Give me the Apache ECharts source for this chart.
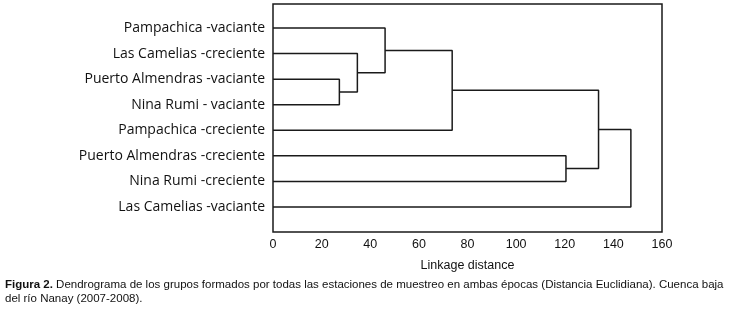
<!DOCTYPE html>
<html>
<head>
<meta charset="utf-8">
<script src="https://cdn.jsdelivr.net/npm/echarts@6/dist/echarts.min.js"></script>
<style>
  html, body { margin: 0; padding: 0; background: #fff; }
  #chart { width: 730px; height: 309px; }
</style>
</head>
<body>
<div id="chart"></div>
<script>
// leaves, top to bottom
var leaves = [
    'Pampachica -vaciante',
    'Las Camelias -creciente',
    'Puerto Almendras -vaciante',
    'Nina Rumi - vaciante',
    'Pampachica -creciente',
    'Puerto Almendras -creciente',
    'Nina Rumi -creciente',
    'Las Camelias -vaciante'
];
// merges: child a, child b (index >= 8 means earlier merge), linkage distance
var mergeA = [2, 1, 0, 10, 5, 11, 13];
var mergeB = [3, 8, 9, 4, 6, 12, 7];
var mergeDist = [27.3, 34.7, 46.1, 73.7, 120.5, 133.9, 147.2];
var xTicks = [0, 20, 40, 60, 80, 100, 120, 140, 160];

var n = leaves.length;
var nodeY = [], nodeH = [];
for (var i = 0; i < n; i++) { nodeY.push(i + 1); nodeH.push(0); }

var series = [];
for (var k = 0; k < mergeDist.length; k++) {
    var a = mergeA[k], b = mergeB[k], h = mergeDist[k];
    series.push({
        type: 'line',
        symbol: 'none',
        silent: true,
        lineStyle: {color: '#1a1a1a', width: 1.5},
        data: [
            [nodeH[a], nodeY[a]],
            [h, nodeY[a]],
            [h, nodeY[b]],
            [nodeH[b], nodeY[b]]
        ]
    });
    nodeY.push((nodeY[a] + nodeY[b]) / 2);
    nodeH.push(h);
}

var myChart = echarts.init(document.getElementById('chart'));
myChart.setOption({
    animation: false,
    title: {
        text: '{b|Figura 2.} Dendrograma de los grupos formados por todas las estaciones de muestreo en ambas épocas (Distancia Euclidiana). Cuenca baja\ndel río Nanay (2007-2008).',
        left: 0,
        top: 273,
        textStyle: {
            fontFamily: 'Liberation Sans',
            fontSize: 11.5,
            fontWeight: 'normal',
            color: '#111',
            lineHeight: 14,
            rich: {
                b: {fontFamily: 'Liberation Sans', fontSize: 11.5, fontWeight: 'bold', color: '#111'}
            }
        }
    },
    grid: {
        left: 273, right: 68, top: 4, bottom: 77,
        show: true, borderColor: '#1a1a1a', borderWidth: 1.5
    },
    xAxis: {
        type: 'value',
        min: 0, max: 160, interval: 20,
        name: 'Linkage distance',
        nameLocation: 'middle',
        nameGap: 27,
        nameTextStyle: {fontFamily: 'Liberation Sans', fontSize: 12.5, color: '#111'},
        axisLine: {show: false},
        axisTick: {show: false},
        splitLine: {show: false},
        axisLabel: {
            fontFamily: 'Liberation Sans', fontSize: 12.5, color: '#111', margin: 6,
            customValues: xTicks
        }
    },
    yAxis: {
        type: 'value',
        inverse: true,
        min: 0.06, max: 8.98,
        axisLine: {show: false},
        axisTick: {show: false},
        splitLine: {show: false},
        axisLabel: {
            customValues: leaves.map(function (d, i) { return i + 1; }),
            formatter: function (v) { return leaves[Math.round(v) - 1] || ''; },
            fontFamily: 'Open Sans', fontSize: 14, color: '#111', margin: 8
        }
    },
    series: series
});
</script>
</body>
</html>
